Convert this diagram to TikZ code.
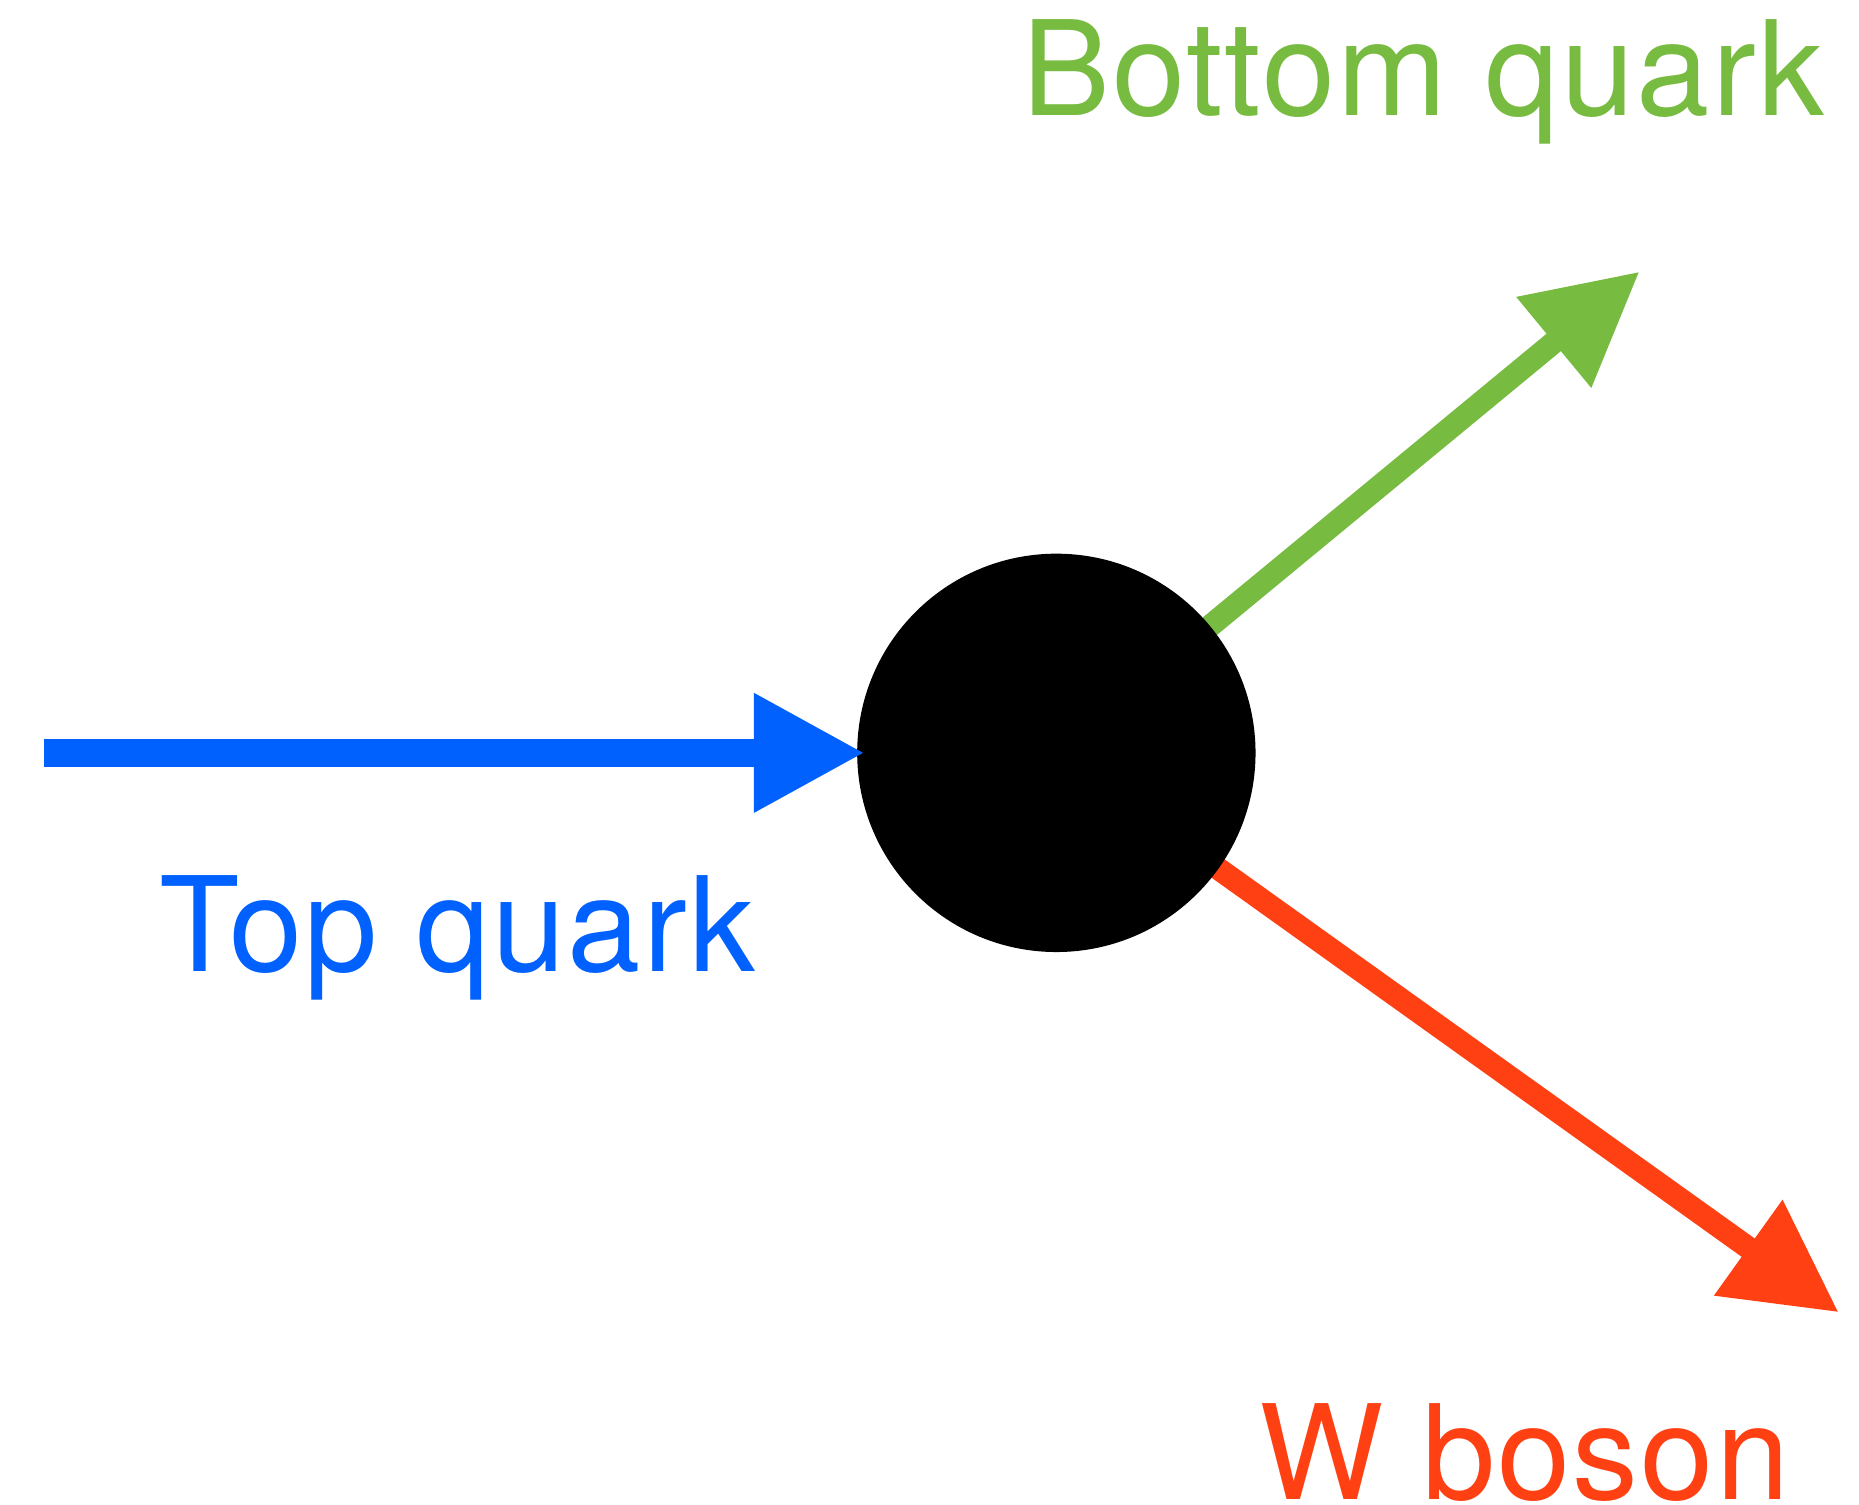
\documentclass[tikz,border=0pt]{standalone}
\usepackage{fontspec}
\setmainfont{TeX Gyre Heros}[LetterSpace=1.6]
\usetikzlibrary{arrows.meta}
\definecolor{topblue}{HTML}{0061FE}
\definecolor{botgreen}{HTML}{77BB41}
\definecolor{wred}{HTML}{FF4013}
\begin{document}
\begin{tikzpicture}[x=1pt,y=-1pt,
  particle/.style={-{Triangle[length=94pt,width=94pt]}},
  lbl/.style={anchor=base west,inner sep=0pt,font=\fontsize{111}{130}\selectfont},
  vertex/.style={circle,fill=black,minimum size=336pt,inner sep=0pt}]
\useasboundingbox (0,0) rectangle (1568,1269);
\coordinate (tstart) at (37,635);
\coordinate (btip) at (1383,229);
\coordinate (wtip) at (1551,1107);
\coordinate (ctr) at (891,635);
% outgoing lines drawn beneath the vertex
\draw[particle,botgreen,line width=19pt] (ctr) -- (btip);
\draw[particle,wred,line width=19pt] (ctr) -- (wtip);
\node[vertex] (c) at (ctr) {};
\draw[particle,topblue,line width=24pt] (tstart) -- ([xshift=7pt]c.west);
\node[lbl,text=botgreen] (bl) at (862,97) {Bottom quark};
\node[lbl,text=topblue] (tl) at (134,819) {Top quark};
\node[lbl,text=wred] (wl) at (1062,1265) {W boson};
\end{tikzpicture}
\end{document}
